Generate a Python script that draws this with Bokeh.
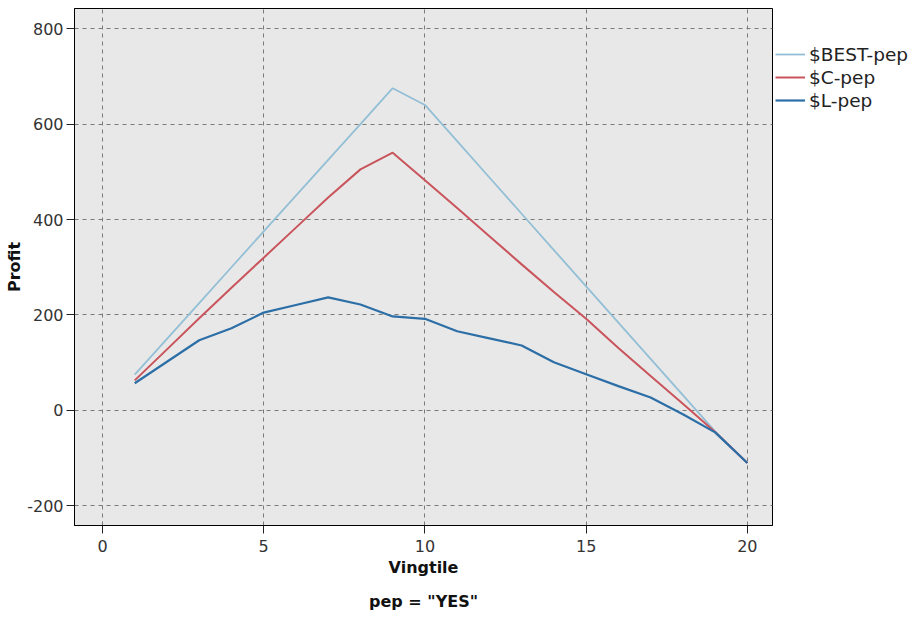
from bokeh.plotting import figure
from bokeh.models import Legend, LegendItem, Title, FixedTicker, PrintfTickFormatter
from bokeh.embed import file_html
from bokeh.resources import INLINE

vingtile = list(range(1, 21))
best_pep = [75, 150, 225, 300, 375, 450, 525, 600, 675, 640, 564, 488, 412, 336, 260, 184, 108, 32, -44, -110]
c_pep = [63, 128, 193, 257, 320, 383, 446, 505, 540, 482, 424, 365, 306, 248, 192, 131, 72, 14, -45, -110]
l_pep = [57, 102, 147, 172, 205, 221, 237, 222, 197, 192, 166, 151, 136, 101, 76, 51, 27, -8, -46, -110]
series_names = ["$BEST-pep", "$C-pep", "$L-pep"]
colors = ["#93bfd6", "#c9545c", "#2c6ea6"]
x_ticks = [0, 5, 10, 15, 20]
y_ticks = [-200, 0, 200, 400, 600, 800]

p = figure(frame_width=698, frame_height=517, output_backend="svg", toolbar_location=None,
           x_range=(-0.868, 20.78), y_range=(-241, 842),
           min_border_left=74, min_border_right=0, min_border_top=8, min_border_bottom=40)
p.background_fill_color = "#e8e8e8"
p.border_fill_color = "white"
p.outline_line_color = "black"
p.outline_line_width = 1

renderers = []
for ys, c, w in zip([best_pep, c_pep, l_pep], colors, [1.8, 2, 2.2]):
    r = p.line(vingtile, ys, line_color=c, line_width=w)
    renderers.append(r)

for ax in (p.xaxis[0], p.yaxis[0]):
    ax.major_label_text_font = "DejaVu Sans"
    ax.major_label_text_font_size = "16px"
    ax.major_label_text_color = "#333333"
    ax.major_label_standoff = 3
    ax.axis_label_text_font = "DejaVu Sans"
    ax.axis_label_text_font_style = "bold"
    ax.axis_label_text_font_size = "16px"
    ax.axis_label_text_color = "#111111"
    ax.minor_tick_line_color = None
    ax.major_tick_in = 0
    ax.major_tick_out = 8
    ax.major_tick_line_color = "#222222"
    ax.axis_line_color = "black"
    ax.formatter = PrintfTickFormatter(format="%d")

p.xaxis[0].ticker = FixedTicker(ticks=x_ticks)
p.yaxis[0].ticker = FixedTicker(ticks=y_ticks)
p.xaxis.axis_label = "Vingtile"
p.yaxis.axis_label = "Profit"
p.xaxis.major_label_standoff = 6
p.xaxis.axis_label_standoff = 3
p.yaxis.axis_label_standoff = 0

for g in (p.xgrid[0], p.ygrid[0]):
    g.grid_line_color = "#7a7a7a"
    g.grid_line_dash = "4 4"
    g.grid_line_width = 1
p.xgrid[0].ticker = FixedTicker(ticks=x_ticks)
p.ygrid[0].ticker = FixedTicker(ticks=y_ticks)

legend = Legend(items=[LegendItem(label=n, renderers=[r]) for n, r in zip(series_names, renderers)],
                location=(3, 414), border_line_color=None, background_fill_alpha=0,
                label_text_font="DejaVu Sans", label_text_font_size="18.5px",
                label_text_color="#222222", glyph_width=30, glyph_height=22,
                spacing=1, padding=2, margin=0, label_standoff=4)
p.add_layout(legend, "right")

t = Title(text='pep = "YES"', align="center", text_font="DejaVu Sans",
          text_font_size="16px", text_font_style="bold", text_color="#111111",
          standoff=21)
p.add_layout(t, "below")

open("out.html", "w").write(file_html(p, INLINE))
